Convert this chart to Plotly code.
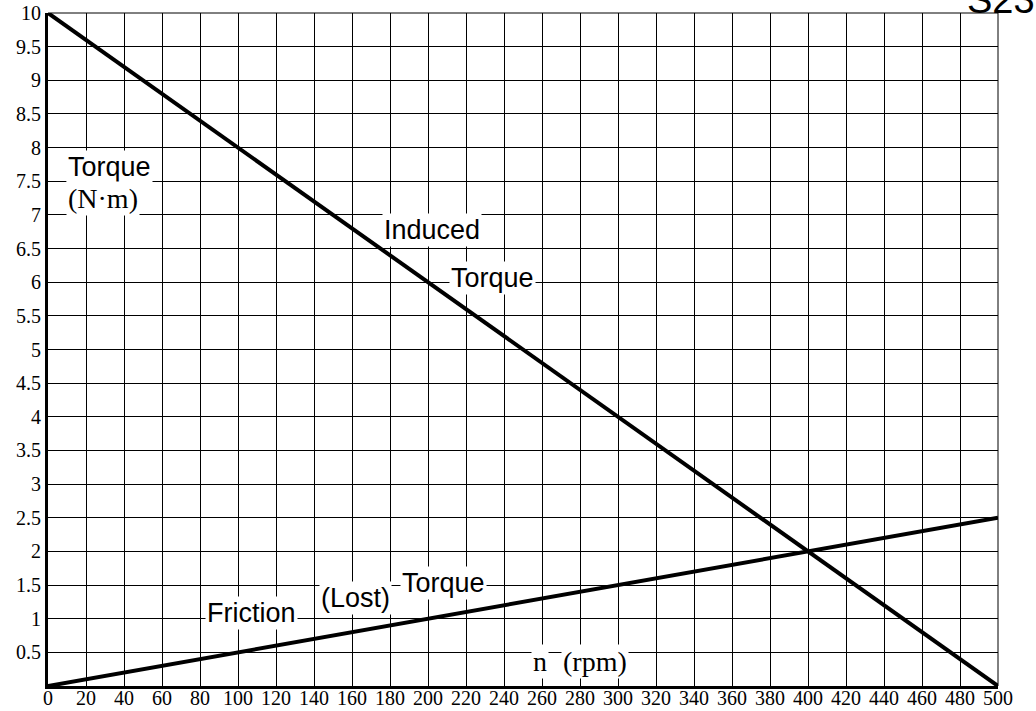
import plotly.graph_objects as go

# Data
speed_rpm = [0, 500]
induced_torque = [10, 0]
friction_torque = [0, 2.5]

x_ticks = list(range(0, 501, 20))
y_ticks = [0.5 * i for i in range(1, 21)]
y_tick_labels = [("%g" % v) for v in y_ticks]

fig = go.Figure()
fig.add_trace(go.Scatter(x=speed_rpm, y=induced_torque, mode="lines",
                         line=dict(color="black", width=4), showlegend=False))
fig.add_trace(go.Scatter(x=speed_rpm, y=friction_torque, mode="lines",
                         line=dict(color="black", width=4), showlegend=False))

serif = "Liberation Serif, Times New Roman, serif"
sans = "Liberation Sans, Arial, sans-serif"

def lab(x, y, text, family=sans, size=27):
    fig.add_annotation(x=x, y=y, text=text, showarrow=False,
                       font=dict(family=family, size=size, color="black"),
                       bgcolor="white", borderpad=1)

lab(32.6, 7.71, "Torque")
lab(29, 7.25, "(N·m)", family=serif, size=28)
lab(202, 6.77, "Induced")
lab(233.7, 6.06, "Torque")
lab(107, 1.08, "Friction")
lab(161.6, 1.31, "(Lost)")
lab(208, 1.53, "Torque")
lab(259, 0.36, "n", family=serif, size=28)
lab(288, 0.36, "(rpm)", family=serif, size=28)

fig.add_annotation(xref="paper", yref="paper", x=1.0, y=1.0, xanchor="left",
                   yanchor="bottom", xshift=-33, yshift=-10, text="S23", showarrow=False,
                   font=dict(family=sans, size=38, color="black"))

# border top/right thin
fig.add_shape(type="line", xref="paper", yref="paper", x0=0, x1=1, y0=1, y1=1,
              line=dict(color="black", width=1))
fig.add_shape(type="line", xref="paper", yref="paper", x0=1, x1=1, y0=0, y1=1,
              line=dict(color="black", width=1))

fig.update_layout(
    template="none",
    width=1036, height=711,
    margin=dict(l=48, r=38, t=13, b=25, pad=0),
    paper_bgcolor="white", plot_bgcolor="white",
    xaxis=dict(range=[0, 500], tickvals=x_ticks, ticktext=[str(v) for v in x_ticks],
               showgrid=True, gridcolor="black", gridwidth=1,
               showline=True, linecolor="black", linewidth=3, zeroline=False,
               ticks="", automargin=False, ticklabelstandoff=-8,
               tickfont=dict(family=serif, size=20, color="black")),
    yaxis=dict(range=[0, 10], tickvals=y_ticks, ticktext=y_tick_labels,
               showgrid=True, gridcolor="black", gridwidth=1,
               showline=True, linecolor="black", linewidth=3, zeroline=False,
               ticks="", automargin=False,
               tickfont=dict(family=serif, size=20, color="black")),
)

fig.write_html("out.html", config={"displayModeBar": False},
               post_script="document.body.style.margin='0';document.body.style.overflow='hidden';")
